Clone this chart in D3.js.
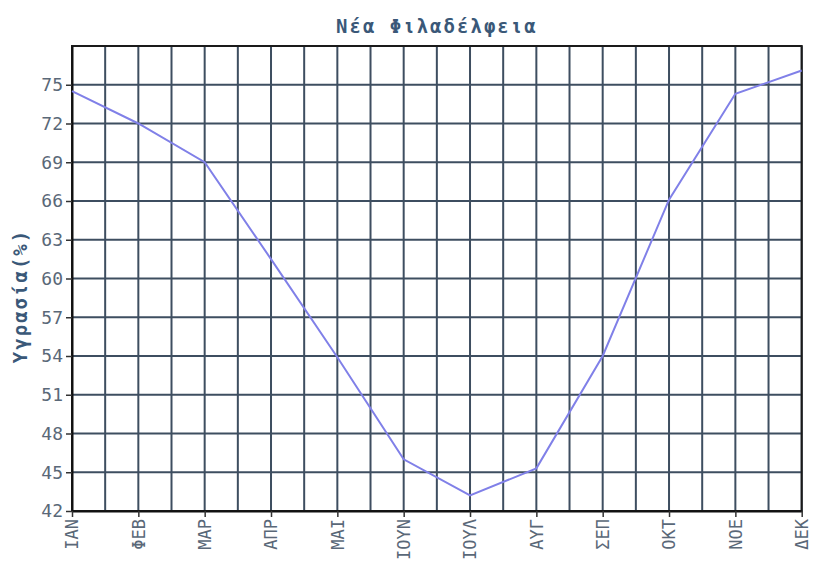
<!DOCTYPE html>
<html><head><meta charset="utf-8">
<script src="https://cdn.jsdelivr.net/npm/d3@7"></script>
<style>body{margin:0;background:#fff}</style>
</head><body>
<svg id="c" width="815" height="564"></svg>
<script>
const months = ["ΙΑΝ","ΦΕΒ","ΜΑΡ","ΑΠΡ","ΜΑΙ","ΙΟΥΝ","ΙΟΥΛ","ΑΥΓ","ΣΕΠ","ΟΚΤ","ΝΟΕ","ΔΕΚ"];
const humidity = [74.5, 72.0, 69.0, 61.5, 53.9, 46.0, 43.2, 45.3, 54.0, 66.1, 74.3, 76.1];
const yTicks = [42,45,48,51,54,57,60,63,66,69,72,75];
const title = "Νέα Φιλαδέλφεια";
const yLabel = "Υγρασία(%)";

const svg = d3.select("#c");
const L = 72, R = 801.7, T = 46, B = 511;
const x = d3.scaleLinear().domain([0, months.length-1]).range([L, R]);
const y = d3.scaleLinear().domain([42, 78]).range([B, T]);
const gridCol = "#3e4e60", txtCol = "#5a6878";

// grid
const g = svg.append("g");
g.selectAll("line.v").data(d3.range(0, months.length-0.5, 0.5)).join("line")
  .attr("x1", d=>x(d)).attr("x2", d=>x(d)).attr("y1", T).attr("y2", B)
  .attr("stroke", gridCol).attr("stroke-width", 2);
g.selectAll("line.h").data(d3.range(42, 78.1, 3)).join("line")
  .attr("x1", L).attr("x2", R).attr("y1", d=>y(d)).attr("y2", d=>y(d))
  .attr("stroke", gridCol).attr("stroke-width", 2);

// frame
svg.append("rect").attr("x", L).attr("y", T).attr("width", R-L).attr("height", B-T)
  .attr("fill","none").attr("stroke","#1a1a1a").attr("stroke-width",2);

// y axis
const ya = svg.append("g").attr("transform", `translate(${L},0)`)
  .call(d3.axisLeft(y).tickValues(yTicks).tickSize(6).tickSizeOuter(0).tickPadding(3));
ya.select(".domain").attr("stroke","#111").attr("stroke-width",2);
ya.selectAll(".tick line").attr("stroke","#333").attr("stroke-width",1.5);
ya.selectAll(".tick text").attr("fill", txtCol)
  .style("font-family","'DejaVu Sans Mono', monospace").style("font-size","18px");

// x axis
const xa = svg.append("g").attr("transform", `translate(0,${B})`)
  .call(d3.axisBottom(x).tickValues(d3.range(months.length)).tickFormat(i=>months[i]).tickSize(6).tickSizeOuter(0));
xa.select(".domain").attr("stroke","#111").attr("stroke-width",2);
xa.selectAll(".tick line").attr("stroke","#333").attr("stroke-width",1.5);
xa.selectAll(".tick text").attr("fill", txtCol)
  .style("font-family","'DejaVu Sans Mono', monospace").style("font-size","17px")
  .attr("transform","rotate(-90)").attr("text-anchor","end")
  .attr("x",-8).attr("y",0).attr("dy","0.35em");

// line
svg.append("path").datum(humidity)
  .attr("d", d3.line().x((d,i)=>x(i)).y(d=>y(d)))
  .attr("fill","none").attr("stroke","#8080e8").attr("stroke-width",2);

// title
svg.append("text").attr("x", (L+R)/2).attr("y", 33).attr("text-anchor","middle")
  .attr("fill","#3a5878").style("font-family","'DejaVu Sans Mono', monospace")
  .style("font-weight","bold").style("font-size","19px").style("letter-spacing","2px").text(title);

// y label
svg.append("text").attr("transform","translate(27,296) rotate(-90)").attr("text-anchor","middle")
  .attr("fill","#3a5878").style("font-family","'DejaVu Sans Mono', monospace")
  .style("font-weight","bold").style("font-size","19px").style("letter-spacing","2px").text(yLabel);
</script>
</body></html>
